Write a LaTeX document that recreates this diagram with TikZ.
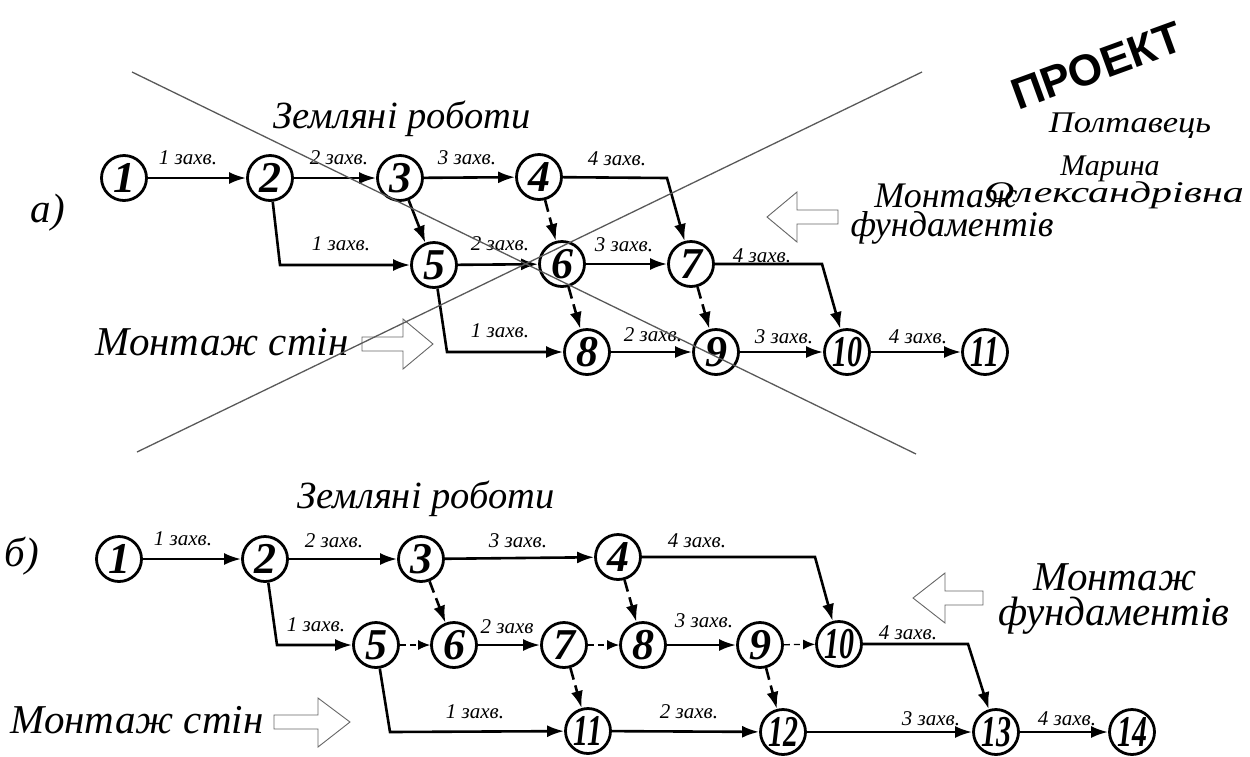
\documentclass[tikz,border=0pt]{standalone}
\usepackage{fontspec}
\setmainfont{Liberation Serif}
\newfontfamily\stampfont{Liberation Sans}
\usetikzlibrary{arrows.meta}
\tikzset{
  ev/.style={circle, draw, line width=2.8pt, fill=white, minimum size=45pt, inner sep=0pt,
    font=\fontsize{44}{44}\selectfont\bfseries\itshape},
  arr/.style={line width=2.6pt, -{Latex[length=17pt,width=12pt]}},
  darr/.style={arr, dash pattern=on 12pt off 6pt},
  tdarr/.style={line width=1.3pt, dash pattern=on 6pt off 4pt, -{Latex[length=12pt,width=10pt]}},
  lbl/.style={font=\fontsize{21}{21}\selectfont\itshape, inner sep=0pt},
  bigz/.style={font=\fontsize{38.5}{40}\selectfont\itshape, inner sep=0pt},
  bigm/.style={font=\fontsize{41}{44}\selectfont\itshape, inner sep=0pt},
  bigf/.style={font=\fontsize{36}{40}\selectfont\itshape, inner sep=0pt},
  bigfb/.style={font=\fontsize{41}{44}\selectfont\itshape, inner sep=0pt},
  xline/.style={draw=black!65, line width=1.3pt},
  blk/.style={draw=black!60, line width=0.9pt, fill=white},
  sig/.style={font=\fontsize{30}{30}\selectfont\itshape, inner sep=0pt}
}
\newcommand{\nn}[1]{\scalebox{0.68}[1]{#1}}
\begin{document}
\begin{tikzpicture}[x=1pt,y=-1pt]
\useasboundingbox (0,0) rectangle (1250,756);
% ---------- part a ----------
\node[bigm, anchor=base] (ta) at (48,222) {а)};
\node[bigz, anchor=base] (za) at (402,128) {Земляні роботи};
\node[bigm, anchor=base] (msa) at (222,355) {Монтаж стін};
\node[bigf, anchor=base] (mfa1) at (946,207) {Монтаж};
\node[bigf, anchor=base] (mfa2) at (952,236) {фундаментів};
\draw[blk] (362,337)--(403,337)--(403,319)--(433,344)--(403,369)--(403,351)--(362,351)--cycle;
\draw[blk] (838,210)--(797,210)--(797,192)--(767,217)--(797,242)--(797,224)--(838,224)--cycle;

\coordinate (c47) at (667,178);
\coordinate (c25) at (280,265);
\coordinate (c58) at (447,352);
\coordinate (c710) at (822,264);

\node[ev] (a1) at (124,178) {1};
\node[ev] (a2) at (270,178) {2};
\node[ev] (a3) at (400,178) {3};
\node[ev] (a4) at (539,177) {4};
\node[ev] (a5) at (434,265) {5};
\node[ev] (a6) at (562,264) {6};
\node[ev] (a7) at (691,264) {7};
\node[ev] (a8) at (587,352) {8};
\node[ev] (a9) at (716,352) {9};
\node[ev] (a10) at (847,352) {\nn{10}};
\node[ev] (a11) at (985,352) {\nn{11}};

\draw[arr] (a1) -- (a2);
\draw[arr] (a2) -- (a3);
\draw[arr] (a3) -- (a4);
\draw[arr] (a4) -- (c47) -- (a7);
\draw[arr] (a2) -- (c25) -- (a5);
\draw[arr] (a3) -- (a5);
\draw[arr] (a5) -- (a6);
\draw[arr] (a6) -- (a7);
\draw[arr] (a5) -- (c58) -- (a8);
\draw[arr] (a8) -- (a9);
\draw[arr] (a9) -- (a10);
\draw[arr] (a10) -- (a11);
\draw[arr] (a7) -- (c710) -- (a10);
\draw[darr] (a4) -- (a6);
\draw[darr] (a6) -- (a8);
\draw[darr] (a7) -- (a9);

\node[lbl] (la12) at (188,158) {1 захв.};
\node[lbl] (la23) at (339,158) {2 захв.};
\node[lbl] (la34) at (467,158) {3 захв.};
\node[lbl] (la47) at (617,159) {4 захв.};
\node[lbl] (la25) at (341,244) {1 захв.};
\node[lbl] (la56) at (500,244) {2 захв.};
\node[lbl] (la67) at (624,245) {3 захв.};
\node[lbl] (la710) at (762,256) {4 захв.};
\node[lbl] (la58) at (500,331) {1 захв.};
\node[lbl] (la89) at (653,335) {2 захв.};
\node[lbl] (la910) at (784,337) {3 захв.};
\node[lbl] (la1011) at (918,337) {4 захв.};

% crossing lines
\coordinate (x1s) at (132,72);
\coordinate (x1e) at (916,454);
\coordinate (x2s) at (137,452);
\coordinate (x2e) at (922,72);
\draw[xline] (x1s) -- (x1e);
\draw[xline] (x2s) -- (x2e);

% ---------- part b ----------
\node[bigm, anchor=base] (tb) at (22,566) {б)};
\node[bigz, anchor=base] (zb) at (426,508) {Земляні роботи};
\node[bigm, anchor=base] (msb) at (137,733) {Монтаж стін};
\node[bigfb, anchor=base] (mfb1) at (1115,590) {Монтаж};
\node[bigfb, anchor=base] (mfb2) at (1114,625) {фундаментів};
\draw[blk] (274,715)--(318,715)--(318,698)--(350,722)--(318,747)--(318,729)--(274,729)--cycle;
\draw[blk] (983,591)--(945,591)--(945,573)--(913,598)--(945,623)--(945,605)--(983,605)--cycle;

\coordinate (d410) at (815,557);
\coordinate (d25) at (277,645);
\coordinate (d1013) at (968,644);
\coordinate (d511) at (390,732);

\node[ev] (b1) at (119,559) {1};
\node[ev] (b2) at (265,559) {2};
\node[ev] (b3) at (421,559) {3};
\node[ev] (b4) at (618,557) {4};
\node[ev] (b5) at (376,645) {5};
\node[ev] (b6) at (454,645) {6};
\node[ev] (b7) at (564,645) {7};
\node[ev] (b8) at (643,645) {8};
\node[ev] (b9) at (760,645) {9};
\node[ev] (b10) at (839,644) {\nn{10}};
\node[ev] (b11) at (588,731) {\nn{11}};
\node[ev] (b12) at (783,732) {\nn{12}};
\node[ev] (b13) at (996,732) {\nn{13}};
\node[ev] (b14) at (1132,732) {\nn{14}};

\draw[arr] (b1) -- (b2);
\draw[arr] (b2) -- (b3);
\draw[arr] (b3) -- (b4);
\draw[arr] (b4) -- (d410) -- (b10);
\draw[arr] (b2) -- (d25) -- (b5);
\draw[darr] (b3) -- (b6);
\draw[tdarr] (b5) -- (b6);
\draw[arr] (b6) -- (b7);
\draw[tdarr] (b7) -- (b8);
\draw[arr] (b8) -- (b9);
\draw[tdarr] (b9) -- (b10);
\draw[darr] (b4) -- (b8);
\draw[arr] (b10) -- (d1013) -- (b13);
\draw[arr] (b5) -- (d511) -- (b11);
\draw[darr] (b7) -- (b11);
\draw[arr] (b11) -- (b12);
\draw[darr] (b9) -- (b12);
\draw[arr] (b12) -- (b13);
\draw[arr] (b13) -- (b14);

\node[lbl] (lb12) at (183,539) {1 захв.};
\node[lbl] (lb23) at (334,541) {2 захв.};
\node[lbl] (lb34) at (518,541) {3 захв.};
\node[lbl] (lb410) at (697,541) {4 захв.};
\node[lbl] (lb25) at (316,625) {1 захв.};
\node[lbl] (lb67) at (507,627) {2 захв};
\node[lbl] (lb89) at (704,621) {3 захв.};
\node[lbl] (lb1013) at (908,633) {4 захв.};
\node[lbl] (lb511) at (475,712) {1 захв.};
\node[lbl] (lb1112) at (689,712) {2 захв.};
\node[lbl] (lb1213) at (931,719) {3 захв.};
\node[lbl] (lb1314) at (1067,719) {4 захв.};

% ---------- stamp ----------
\node[font=\fontsize{44}{44}\selectfont\stampfont\bfseries, rotate=20, inner sep=0pt] (stamp) at (1097,66) {ПРОЕКТ};
\node[sig, anchor=base] (s1) at (1130,132) {\scalebox{1.15}[1]{Полтавець}};
\node[sig, anchor=base] (s2) at (1110,175) {Марина};
\node[sig, anchor=base] (s3) at (1114,202) {\scalebox{1.4}[1]{Олександрівна}};
\end{tikzpicture}
\end{document}
